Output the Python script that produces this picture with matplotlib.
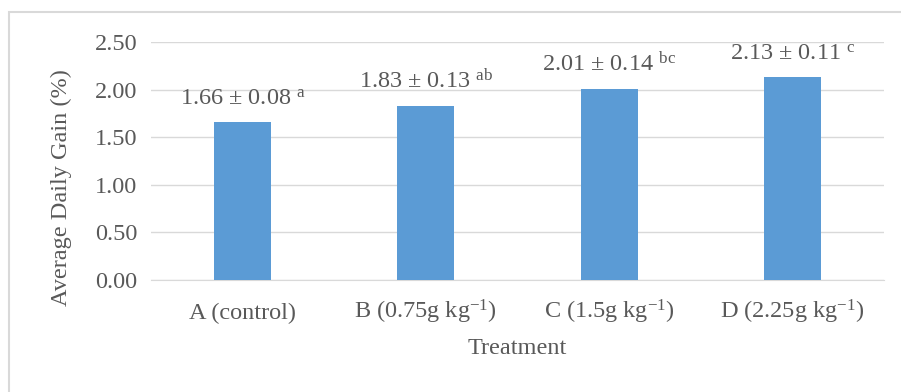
import matplotlib
matplotlib.use("Agg")
import matplotlib.pyplot as plt
from matplotlib.patches import Rectangle

# -----------------------------
# Data
# -----------------------------
categories = [
    "A (control)",
    "B (0.75g kg$^{-1}$)",
    "C (1.5g kg$^{-1}$)",
    "D (2.25g kg$^{-1}$)",
]
means = [1.66, 1.83, 2.01, 2.13]
errors = [0.08, 0.13, 0.14, 0.11]
letters = ["a", "ab", "bc", "c"]

# -----------------------------
# Style
# -----------------------------
plt.rcParams["font.family"] = ["Liberation Serif", "DejaVu Serif"]
plt.rcParams["mathtext.fontset"] = "custom"
plt.rcParams["mathtext.rm"] = "Liberation Serif"
plt.rcParams["mathtext.it"] = "Liberation Serif"
plt.rcParams["mathtext.bf"] = "Liberation Serif"

TEXT = "#595959"
GRID = "#d9d9d9"
BAR = "#5b9bd5"
FS = 17.5

fig = plt.figure(figsize=(9.01, 3.92), dpi=100)
ax = fig.add_axes([151 / 901, 1 - 280 / 392, (884 - 151) / 901, (280 - 42) / 392])

# outer chart border
fig.patches.append(
    Rectangle((9 / 901, -0.1), 1.2, 1 - 12 / 392 + 0.1, transform=fig.transFigure,
              fill=False, edgecolor=GRID, linewidth=1.5)
)

x = range(len(categories))
ax.bar(x, means, width=0.31, color=BAR, zorder=3)

for i, (m, e, l) in enumerate(zip(means, errors, letters)):
    ax.annotate(f"{m:.2f} ± {e:.2f} $^{{\\mathrm{{{l}}}}}$", (i, m),
                xytext=(0, 12.5), textcoords="offset points",
                ha="center", va="baseline", fontsize=FS, color=TEXT)

ax.set_xlim(-0.5, 3.5)
ax.set_ylim(0, 2.5)
ax.set_yticks([0, 0.5, 1.0, 1.5, 2.0, 2.5])
ax.set_yticklabels([f"{v:.2f}" for v in [0, 0.5, 1.0, 1.5, 2.0, 2.5]])
ax.set_xticks(list(x))
ax.set_xticklabels(categories)
for lbl in ax.get_xticklabels():
    lbl.set_verticalalignment("baseline")

ax.tick_params(axis="both", length=0, labelsize=FS, colors=TEXT)
ax.tick_params(axis="x", pad=28)
ax.tick_params(axis="y", pad=10)

ax.grid(axis="y", color=GRID, linewidth=1, zorder=0)
for side in ["top", "right", "left"]:
    ax.spines[side].set_visible(False)
ax.spines["bottom"].set_color(GRID)

ax.set_ylabel("Average Daily Gain (%)", fontsize=FS, color=TEXT)
ax.yaxis.set_label_coords(-0.108, 0.39)
ax.set_xlabel("Treatment", fontsize=FS, color=TEXT)
ax.xaxis.set_label_coords(0.5, -0.245)

fig.savefig("out.png", dpi=100)
